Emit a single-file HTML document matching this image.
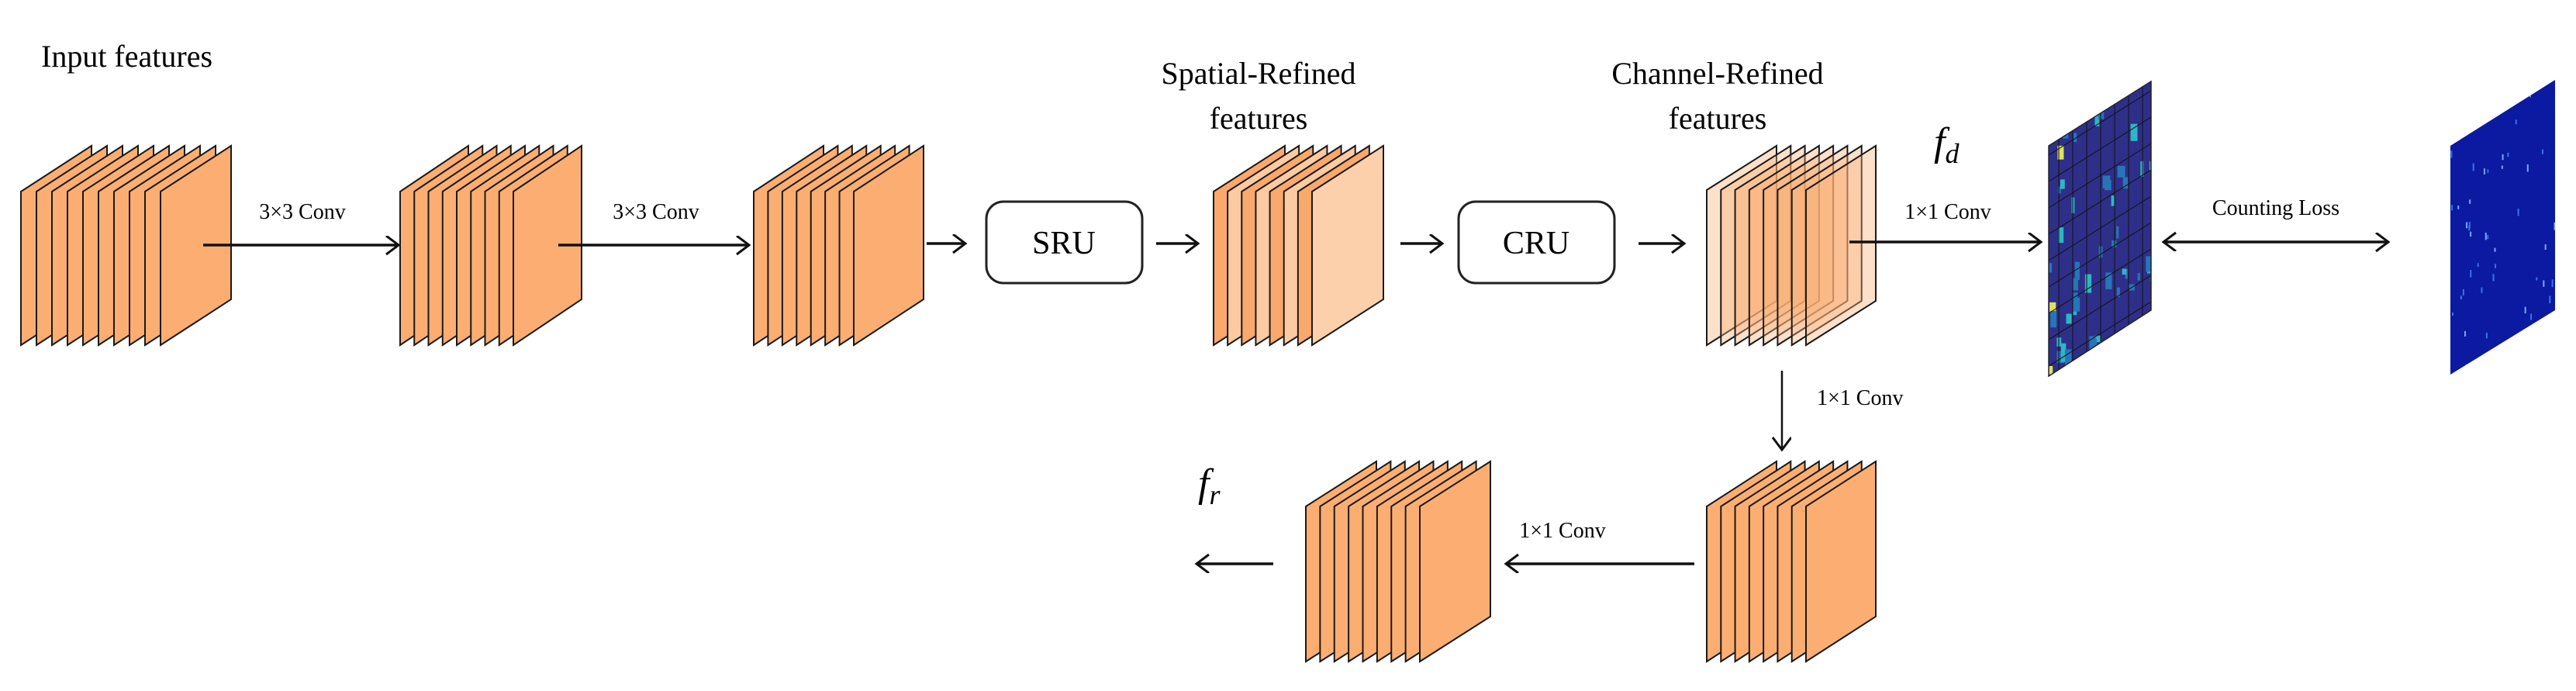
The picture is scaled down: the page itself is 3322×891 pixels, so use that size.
<!DOCTYPE html>
<html><head><meta charset="utf-8">
<style>html,body{margin:0;padding:0;background:#fff;}svg{display:block}</style>
</head><body>
<svg id="s" xmlns="http://www.w3.org/2000/svg" width="3322" height="891" viewBox="0 0 3322 891" font-family="Liberation Serif, serif">
<defs>
<marker id="ah" markerWidth="30" markerHeight="30" refX="20" refY="12" orient="auto" markerUnits="userSpaceOnUse">
<polyline points="4,0 20,12 4,24" fill="none" stroke="#111" stroke-width="3"/>
</marker>
<marker id="ahs" markerWidth="30" markerHeight="30" refX="20" refY="12" orient="auto-start-reverse" markerUnits="userSpaceOnUse">
<polyline points="4,0 20,12 4,24" fill="none" stroke="#111" stroke-width="3"/>
</marker>
<clipPath id="hm"><polygon points="2642,188 2774,105 2774,400 2642,485"/></clipPath>
<clipPath id="tg"><polygon points="3160,188 3295,103 3295,400 3160,483"/></clipPath>
</defs>
<g id="stacks"></g>

<g clip-path="url(#hm)">
<rect x="2640" y="100" width="140" height="390" fill="#2e2f88"/>
<g id="hmspots"></g>
</g>
<polygon points="2642,188 2774,105 2774,400 2642,485" fill="none" stroke="#223" stroke-width="1.5"/>
<g clip-path="url(#tg)">
<rect x="3155" y="100" width="145" height="390" fill="#0b1aa0"/>
<g id="tgspots"></g>
</g>

<rect x="1272" y="260" width="201" height="105" rx="22" fill="#fff" stroke="#222" stroke-width="3"/>
<text x="1372" y="327" font-size="42" text-anchor="middle">SRU</text>
<rect x="1881" y="260" width="201" height="105" rx="22" fill="#fff" stroke="#222" stroke-width="3"/>
<text x="1981" y="327" font-size="42" text-anchor="middle">CRU</text>

<g stroke="#111" stroke-width="3.5" fill="none">
<line x1="262" y1="316" x2="514" y2="316" marker-end="url(#ah)"/>
<line x1="720" y1="316" x2="966" y2="316" marker-end="url(#ah)"/>
<line x1="1195" y1="314" x2="1245" y2="314" marker-end="url(#ah)"/>
<line x1="1491" y1="314" x2="1545" y2="314" marker-end="url(#ah)"/>
<line x1="1806" y1="314" x2="1860" y2="314" marker-end="url(#ah)"/>
<line x1="2113" y1="314" x2="2172" y2="314" marker-end="url(#ah)"/>
<line x1="2385" y1="312" x2="2632" y2="312" marker-end="url(#ah)"/>
<line x1="2790" y1="312" x2="3080" y2="312" marker-end="url(#ahs)" marker-start="url(#ahs)"/>
<line x1="2298" y1="478" x2="2298" y2="580" stroke-width="2.5" marker-end="url(#ah)"/>
<line x1="2185" y1="727" x2="1942" y2="727" marker-end="url(#ah)"/>
<line x1="1642" y1="727" x2="1543" y2="727" marker-end="url(#ah)"/>
</g>

<text x="53" y="86" font-size="40">Input features</text>
<text x="1623" y="108" font-size="40" text-anchor="middle">Spatial-Refined</text>
<text x="1623" y="166" font-size="40" text-anchor="middle">features</text>
<text x="2215" y="108" font-size="40" text-anchor="middle">Channel-Refined</text>
<text x="2215" y="166" font-size="40" text-anchor="middle">features</text>
<text x="390" y="282" font-size="28" text-anchor="middle">3×3 Conv</text>
<text x="846" y="282" font-size="28" text-anchor="middle">3×3 Conv</text>
<text x="2512" y="282" font-size="28" text-anchor="middle">1×1 Conv</text>
<text x="2935" y="277" font-size="28" text-anchor="middle">Counting Loss</text>
<text x="2343" y="522" font-size="28">1×1 Conv</text>
<text x="2015" y="693" font-size="28" text-anchor="middle">1×1 Conv</text>
<text x="2494" y="200" font-size="52" font-style="italic">f<tspan font-size="36" dy="10">d</tspan></text>
<text x="1545" y="640" font-size="52" font-style="italic">f<tspan font-size="36" dy="10">r</tspan></text>
</svg>
<script>
var NS="http://www.w3.org/2000/svg";
var g=document.getElementById("stacks");
function stack(x0,front,n,w,yTL,s,h,colorFn,op){
  var d=(front-x0)/(n-1);
  for(var i=0;i<n;i++){
    var x=x0+i*d;
    var p=document.createElementNS(NS,"polygon");
    p.setAttribute("points",[x,yTL, x+w,yTL-s, x+w,yTL-s+h, x,yTL+h].join(" "));
    p.setAttribute("fill",colorFn(i,n));
    if(op) p.setAttribute("fill-opacity",op);
    p.setAttribute("stroke","#1a1a1a");p.setAttribute("stroke-width","2");
    g.appendChild(p);
  }
}
var OR="#fcae72";
stack(27,207,10,91,247,59,198,function(){return OR;});
stack(516,662,9,88,247,59,198,function(){return OR;});
stack(972,1101,8,90,247,59,198,function(){return OR;});
stack(1565,1692,8,92,247,59,198,function(i,n){return (i==n-1)?"#fdd0ac":(i%2==0?"#fba86c":"#fdcaa2");});
stack(2201,2329,8,90,245,57,200,function(i){return "#fbae74";},0.38);
stack(2201,2329,8,90,653,58,200,function(){return OR;});
stack(1684,1831,9,91,653,58,200,function(){return OR;});
var hs=document.getElementById("hmspots");
var seed=7;function r(){seed=(seed*9301+49297)%233280;return seed/233280;}
for(var i=0;i<140;i++){
  var x=2642+r()*132,y=110+r()*370;
  var dens=(y>330)?0.75:0.18;
  if(r()>dens) continue;
  var c=document.createElementNS(NS,"rect");
  c.setAttribute("x",x);c.setAttribute("y",y);c.setAttribute("width",3+r()*7);c.setAttribute("height",6+r()*20);
  var t=r();c.setAttribute("fill",t>0.93?"#e0e060":(t>0.55?"#2fb5c5":"#2576b8"));
  hs.appendChild(c);
}
for(var i=0;i<7;i++){
  var l=document.createElementNS(NS,"line");
  var x=2655+i*18;
  l.setAttribute("x1",x);l.setAttribute("y1",90);l.setAttribute("x2",x);l.setAttribute("y2",500);
  l.setAttribute("stroke","#111");l.setAttribute("stroke-width","1");hs.appendChild(l);
}
for(var i=0;i<9;i++){
  var l=document.createElementNS(NS,"line");
  var y=200+i*34;
  l.setAttribute("x1",2642);l.setAttribute("y1",y);l.setAttribute("x2",2774);l.setAttribute("y2",y-83);
  l.setAttribute("stroke","#111");l.setAttribute("stroke-width","1");hs.appendChild(l);
}
var ts=document.getElementById("tgspots");
for(var i=0;i<45;i++){
  var c=document.createElementNS(NS,"rect");
  c.setAttribute("x",3160+r()*135);c.setAttribute("y",110+r()*370);
  c.setAttribute("width",2);c.setAttribute("height",4+r()*6);
  c.setAttribute("fill",r()>0.5?"#7aa6ff":"#3d6ff0");ts.appendChild(c);
}
</script>
</body></html>
